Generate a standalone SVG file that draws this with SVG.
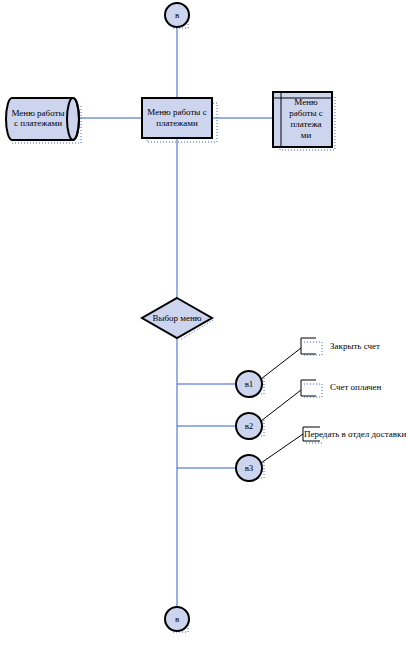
<svg xmlns="http://www.w3.org/2000/svg" width="408" height="646" viewBox="0 0 408 646">
<style>
.fill{fill:#cdd5ee;stroke:#000;stroke-width:2}
.sh{fill:none;stroke:#3a66d0;stroke-width:1;stroke-dasharray:1 2}
.conn{stroke:#3560c8;stroke-width:1;fill:none}
.blk{stroke:#000;stroke-width:1;fill:none}
text{font-family:"Liberation Serif",serif;font-size:9px;fill:#000}
.c{text-anchor:middle}
</style>
<rect width="408" height="646" fill="#fff"/>
<g id="connectors">
<line class="conn" x1="177" y1="27" x2="177" y2="607"/>
<line class="conn" x1="79" y1="118" x2="273" y2="118"/>
<line class="conn" x1="177" y1="384" x2="235" y2="384"/>
<line class="conn" x1="177" y1="426" x2="235" y2="426"/>
<line class="conn" x1="177" y1="468" x2="235" y2="468"/>
<line class="blk" x1="261" y1="379" x2="301" y2="348"/>
<line class="blk" x1="261" y1="421" x2="301" y2="390"/>
<line class="blk" x1="261" y1="463" x2="303" y2="434"/>
</g>
<g id="top">
<path class="sh" d="M188 12 V28 H172"/>
<circle class="fill" cx="177" cy="15" r="12"/>
<text class="c" x="177" y="18" font-size="7">в</text>
</g>
<g id="cyl">
<path class="sh" d="M81 106 V143 H12"/>
<path class="fill" d="M12 98 H73 A6 21 0 0 1 73 140 H12 A6 21 0 0 1 12 98 Z"/>
<ellipse cx="73" cy="119" rx="6" ry="21" fill="none" stroke="#000" stroke-width="2"/>
<text class="c" x="38" y="116">Меню работы</text>
<text class="c" x="38" y="126">с платежами</text>
</g>
<g id="mid">
<path class="sh" d="M213 103 H217 V142 H147 V138"/>
<rect class="fill" x="142" y="98" width="70" height="40"/>
<text class="c" x="177" y="115">Меню работы с</text>
<text class="c" x="177" y="126">платежами</text>
</g>
<g id="right">
<path class="sh" d="M332 97 H335 V150 H280 V147"/>
<rect class="fill" x="273" y="92" width="59" height="55"/>
<line class="blk" stroke-width="2" x1="281" y1="92" x2="281" y2="147"/>
<line class="blk" stroke-width="2" x1="273" y1="98" x2="332" y2="98"/>
<text class="c" x="306" y="105">Меню</text>
<text class="c" x="306" y="116">работы с</text>
<text class="c" x="306" y="127">платежа</text>
<text class="c" x="306" y="138">ми</text>
</g>
<g id="choice">
<path class="sh" d="M213 320 L180 340"/>
<polygon class="fill" points="177,298 212,318 177,338 142,318"/>
<text class="c" x="177" y="321">Выбор меню</text>
</g>
<g id="e1">
<path class="sh" d="M264 378 V394 H245"/>
<circle class="fill" cx="249" cy="384" r="13"/>
<text class="c" x="249" y="387">в1</text>
</g>
<g id="e2">
<path class="sh" d="M264 420 V436 H245"/>
<circle class="fill" cx="249" cy="426" r="13"/>
<text class="c" x="249" y="429">в2</text>
</g>
<g id="e3">
<path class="sh" d="M264 462 V478 H245"/>
<circle class="fill" cx="249" cy="468" r="13"/>
<text class="c" x="249" y="471">в3</text>
</g>
<g id="t1">
<path class="sh" d="M304 342 H322 M304 355 H322 M322 342 V355"/>
<path class="blk" stroke-width="2" d="M316 338 H301 V354 H316"/>
<text x="330" y="349">Закрыть счет</text>
</g>
<g id="t2">
<path class="sh" d="M304 384 H322 M304 397 H322 M322 384 V397"/>
<path class="blk" stroke-width="2" d="M316 380 H301 V396 H316"/>
<text x="330" y="390">Счет оплачен</text>
</g>
<g id="t3">
<path class="sh" d="M306 443 H323"/>
<path class="blk" stroke-width="2" d="M320 427 H303 V441 H320"/>
<text x="304" y="437">Передать в отдел доставки</text>
</g>
<g id="bottom">
<path class="sh" d="M188 616 V632 H172"/>
<circle class="fill" cx="177" cy="619" r="12"/>
<text class="c" x="177" y="622" font-size="7">в</text>
</g>
</svg>
